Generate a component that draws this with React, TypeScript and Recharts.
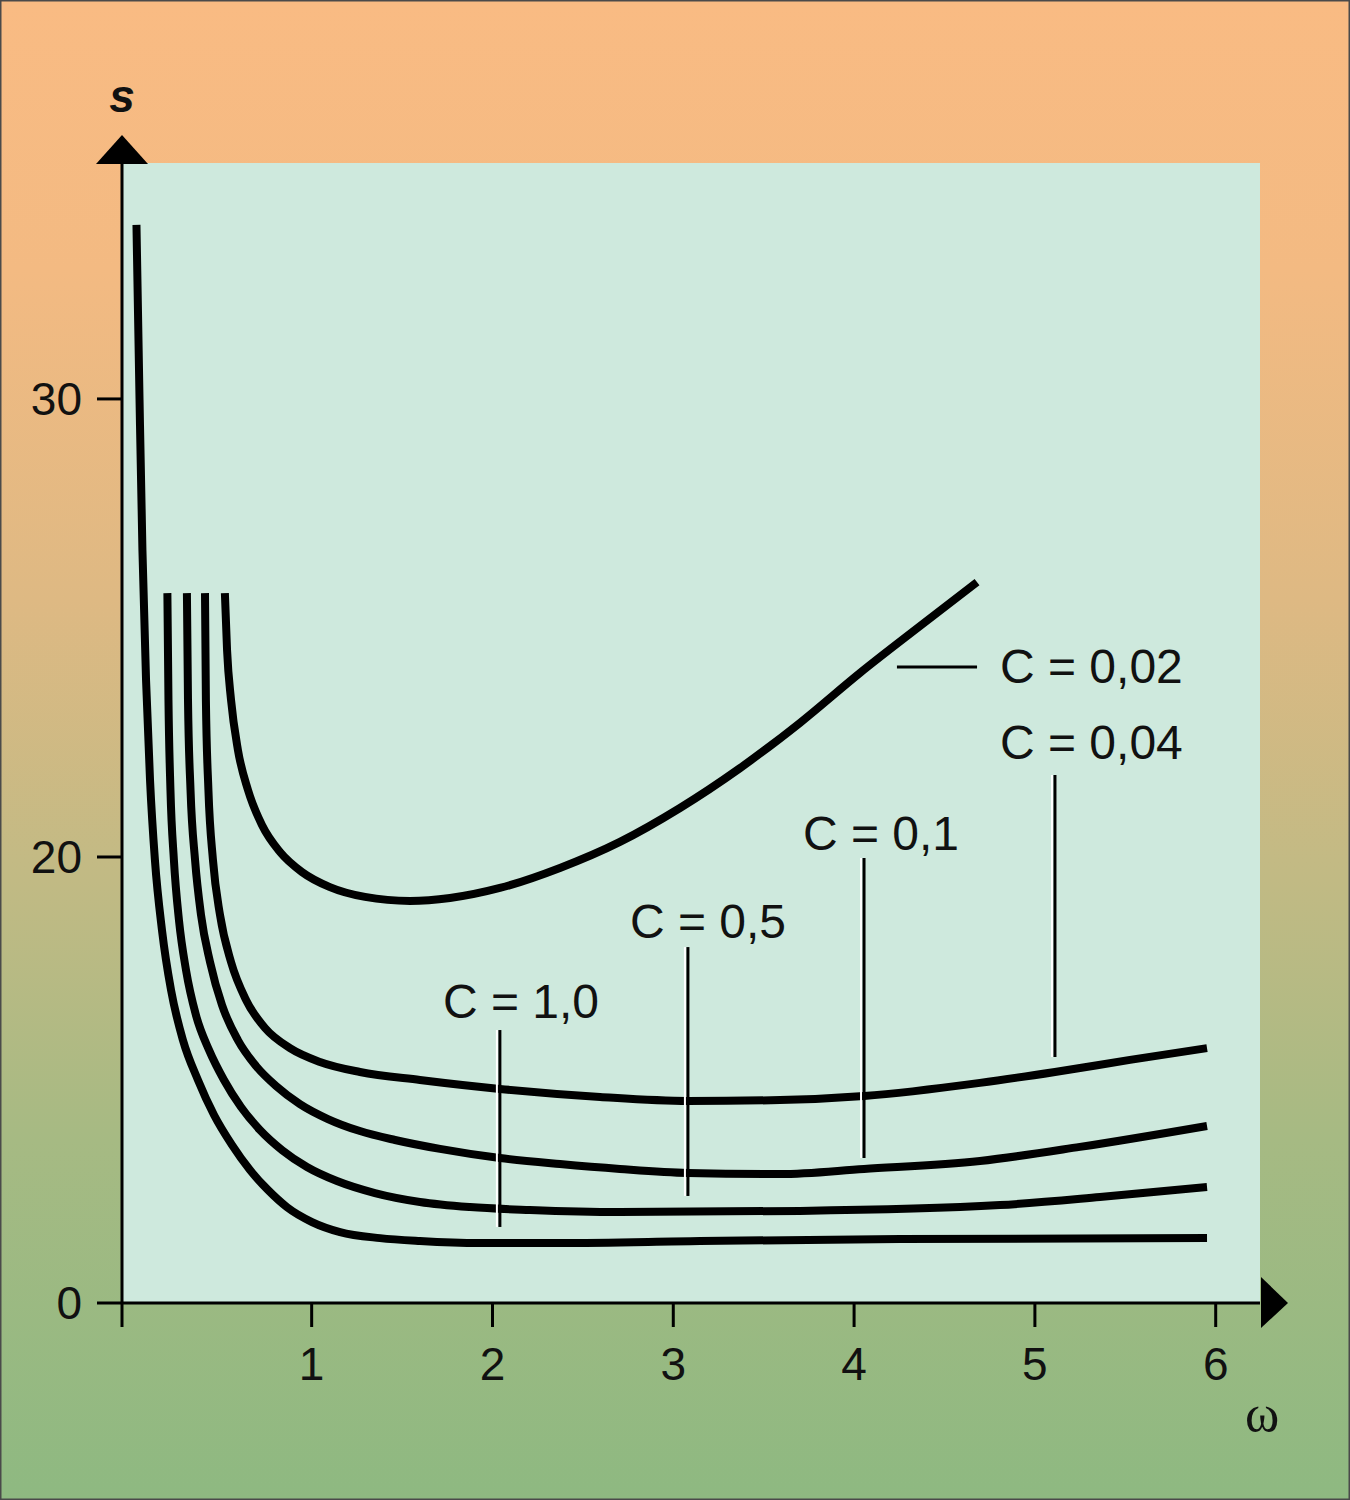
import React from 'react';
import {
  CartesianGrid,
  Line,
  LineChart,
  ReferenceDot,
  ReferenceLine,
  XAxis,
  YAxis,
} from 'recharts';

const FONT = '"Liberation Sans", Arial, Helvetica, sans-serif';

// the s axis is drawn with a break: 0..20 is compressed, above 20 it is stretched
const STRETCH = 2.054;
const toAxis = (s: number) => (s <= 20 ? s : 20 + (s - 20) * STRETCH);
const fromAxis = (v: number) => (v <= 20 ? v : 20 + (v - 20) / STRETCH);

const X_MIN = -0.049;
const X_MAX = 6.245;
const Y_TOP = 51.12;

const omegaTicks = [1, 2, 3, 4, 5, 6];
const sTicks = [0, 20, 30];

// C = 1,0
const c10Omega = [0.031, 0.048, 0.064, 0.084, 0.106, 0.133, 0.172, 0.222, 0.288, 0.371, 0.46, 0.559, 0.659, 0.758, 0.863, 1.002, 1.157, 1.378, 1.599, 1.931, 2.373, 3.148, 4.254, 5.952];
const c10S = [33.8, 29.98, 26.7, 23.86, 21.68, 19.87, 16.73, 14.04, 11.79, 10.0, 8.43, 7.09, 5.96, 5.07, 4.3, 3.63, 3.18, 2.91, 2.78, 2.69, 2.69, 2.78, 2.87, 2.91];

// C = 0,5
const c05Omega = [0.202, 0.208, 0.219, 0.238, 0.266, 0.305, 0.36, 0.432, 0.515, 0.609, 0.714, 0.836, 0.974, 1.14, 1.35, 1.599, 1.876, 2.207, 2.705, 3.701, 4.807, 5.36, 5.952];
const c05S = [25.76, 23.43, 21.46, 19.87, 17.17, 14.93, 12.91, 11.35, 10.0, 8.79, 7.76, 6.86, 6.1, 5.47, 4.93, 4.53, 4.3, 4.17, 4.08, 4.13, 4.39, 4.75, 5.2];

// C = 0,1
const c01Omega = [0.31, 0.316, 0.33, 0.355, 0.388, 0.438, 0.504, 0.592, 0.692, 0.803, 0.935, 1.09, 1.267, 1.461, 1.71, 2.041, 2.373, 2.705, 3.081, 3.59, 4.055, 4.696, 5.249, 5.952];
const c01S = [25.76, 23.43, 21.46, 19.87, 17.4, 15.29, 13.36, 11.79, 10.63, 9.73, 8.92, 8.25, 7.71, 7.31, 6.91, 6.5, 6.23, 6.01, 5.83, 5.78, 6.01, 6.37, 7.0, 7.94];

// C = 0,04
const c004Omega = [0.41, 0.415, 0.429, 0.454, 0.493, 0.554, 0.637, 0.742, 0.88, 1.046, 1.267, 1.599, 2.041, 2.595, 3.081, 3.59, 4.055, 4.696, 5.111, 5.526, 5.952];
const c004S = [25.76, 23.43, 21.46, 19.87, 17.4, 15.29, 13.59, 12.33, 11.43, 10.81, 10.36, 10.0, 9.6, 9.24, 9.06, 9.1, 9.28, 9.87, 10.36, 10.9, 11.43];

// C = 0,02
const c002Omega = [0.52, 0.532, 0.554, 0.592, 0.648, 0.725, 0.825, 0.946, 1.101, 1.295, 1.544, 1.765, 2.041, 2.373, 2.705, 3.037, 3.369, 3.701, 4.033, 4.364, 4.68];
const c002S = [25.76, 24.52, 23.43, 22.34, 21.46, 20.7, 20.11, 19.33, 18.65, 18.21, 18.03, 18.16, 18.61, 19.51, 20.33, 21.07, 21.94, 22.93, 24.02, 25.04, 26.0];

// curve labels and their leader lines
const labelText = ['C = 0,02', 'C = 0,04', 'C = 0,1', 'C = 0,5', 'C = 1,0'];
const labelOmega = [4.807, 4.807, 3.717, 2.76, 1.726];
const labelS = [24.15, 22.49, 20.52, 17.09, 13.5];

const leaderOmega = [2.041, 3.081, 4.055, 5.111];
const leaderTop = [12.24, 15.96, 19.96, 21.79];
const leaderBottom = [3.41, 4.8, 6.5, 11.03];
const flatLeaderOmega = [4.237, 4.68];
const flatLeaderS = 24.15;

const toSeries = (w: number[], s: number[]) =>
  w.map((x, i) => ({ w: x, y: toAxis(s[i]) }));

const curves = [
  toSeries(c10Omega, c10S),
  toSeries(c05Omega, c05S),
  toSeries(c01Omega, c01S),
  toSeries(c004Omega, c004S),
  toSeries(c002Omega, c002S),
];

function LeaderShape(props: any) {
  const { x1, y1, x2, y2 } = props;
  return (
    <g>
      <line x1={x1 - 3} y1={y1} x2={x2 - 3} y2={y2} stroke="#fff" strokeWidth={2} />
      <line x1={x1} y1={y1} x2={x2} y2={y2} stroke="#000" strokeWidth={3} />
    </g>
  );
}

function labelShape(text: string) {
  return (props: any) => (
    <text
      x={props.cx}
      y={props.cy}
      dominantBaseline="central"
      fontFamily={FONT}
      fontSize={48}
      fill="#111"
    >
      {text}
    </text>
  );
}

function YArrow(props: any) {
  const { cx, cy } = props;
  return (
    <g>
      <polygon points={`${cx},${cy - 28} ${cx - 26},${cy + 1} ${cx + 26},${cy + 1}`} fill="#000" />
      <text
        x={cx}
        y={cy - 51}
        textAnchor="middle"
        fontFamily={FONT}
        fontStyle="italic"
        fontWeight="bold"
        fontSize={46}
        fill="#111"
      >
        s
      </text>
    </g>
  );
}

function XArrow(props: any) {
  const { cx, cy } = props;
  return (
    <g>
      <polygon points={`${cx + 1},${cy - 26} ${cx + 28},${cy} ${cx + 1},${cy + 25}`} fill="#000" />
      <text
        x={cx + 2}
        y={cy + 128}
        textAnchor="middle"
        fontFamily='"Liberation Serif", "DejaVu Serif", serif'
        fontSize={52}
        fill="#111"
      >
        ω
      </text>
    </g>
  );
}

export default function App() {
  return (
    <div
      style={{
        position: 'absolute',
        left: 0,
        top: 0,
        width: 1350,
        height: 1500,
        background:
          'linear-gradient(to bottom, #F9BB83 0%, #F3BA82 18%, #DEB983 40%, #C2BA84 58%, #A6BA83 76%, #8EB981 100%)',
        boxShadow: 'inset 0 0 0 1.5px #4a4a4a',
      }}
    >
      <LineChart
        width={1350}
        height={1500}
        margin={{ top: 163, right: 90, bottom: 77, left: 22 }}
      >
        <CartesianGrid fill="#CEE9DD" stroke="none" horizontal={false} vertical={false} />
        <XAxis
          type="number"
          dataKey="w"
          domain={[X_MIN, X_MAX]}
          ticks={[X_MIN, ...omegaTicks]}
          tickFormatter={(v: number) => (v < 0.5 ? '' : String(v))}
          allowDataOverflow
          interval={0}
          height={120}
          axisLine={{ stroke: '#000', strokeWidth: 3 }}
          tickLine={{ stroke: '#000', strokeWidth: 3 }}
          tickSize={24}
          tickMargin={20}
          tick={{ fill: '#111', fontSize: 46, fontFamily: FONT }}
        />
        <YAxis
          type="number"
          domain={[0, Y_TOP]}
          ticks={sTicks.map(toAxis)}
          tickFormatter={(v: number) => String(Math.round(fromAxis(v)))}
          allowDataOverflow
          interval={0}
          width={100}
          axisLine={{ stroke: '#000', strokeWidth: 3 }}
          tickLine={{ stroke: '#000', strokeWidth: 3 }}
          tickSize={25}
          tickMargin={15}
          tick={{ fill: '#111', fontSize: 46, fontFamily: FONT }}
        />
        {curves.map((data, i) => (
          <Line
            key={i}
            data={data}
            dataKey="y"
            type="monotone"
            stroke="#000"
            strokeWidth={8}
            dot={false}
            activeDot={false}
            isAnimationActive={false}
          />
        ))}
        {leaderOmega.map((w, i) => (
          <ReferenceLine
            key={`leader-${i}`}
            segment={[
              { x: w, y: toAxis(leaderTop[i]) },
              { x: w, y: toAxis(leaderBottom[i]) },
            ]}
            ifOverflow="visible"
            shape={LeaderShape}
          />
        ))}
        <ReferenceLine
          segment={[
            { x: flatLeaderOmega[0], y: toAxis(flatLeaderS) },
            { x: flatLeaderOmega[1], y: toAxis(flatLeaderS) },
          ]}
          stroke="#000"
          strokeWidth={3}
          ifOverflow="visible"
        />
        {labelText.map((t, i) => (
          <ReferenceDot
            key={`label-${i}`}
            x={labelOmega[i]}
            y={toAxis(labelS[i])}
            r={0}
            ifOverflow="visible"
            shape={labelShape(t)}
          />
        ))}
        <ReferenceDot x={X_MIN} y={Y_TOP} r={0} ifOverflow="visible" shape={YArrow} />
        <ReferenceDot x={X_MAX} y={0} r={0} ifOverflow="visible" shape={XArrow} />
      </LineChart>
    </div>
  );
}
